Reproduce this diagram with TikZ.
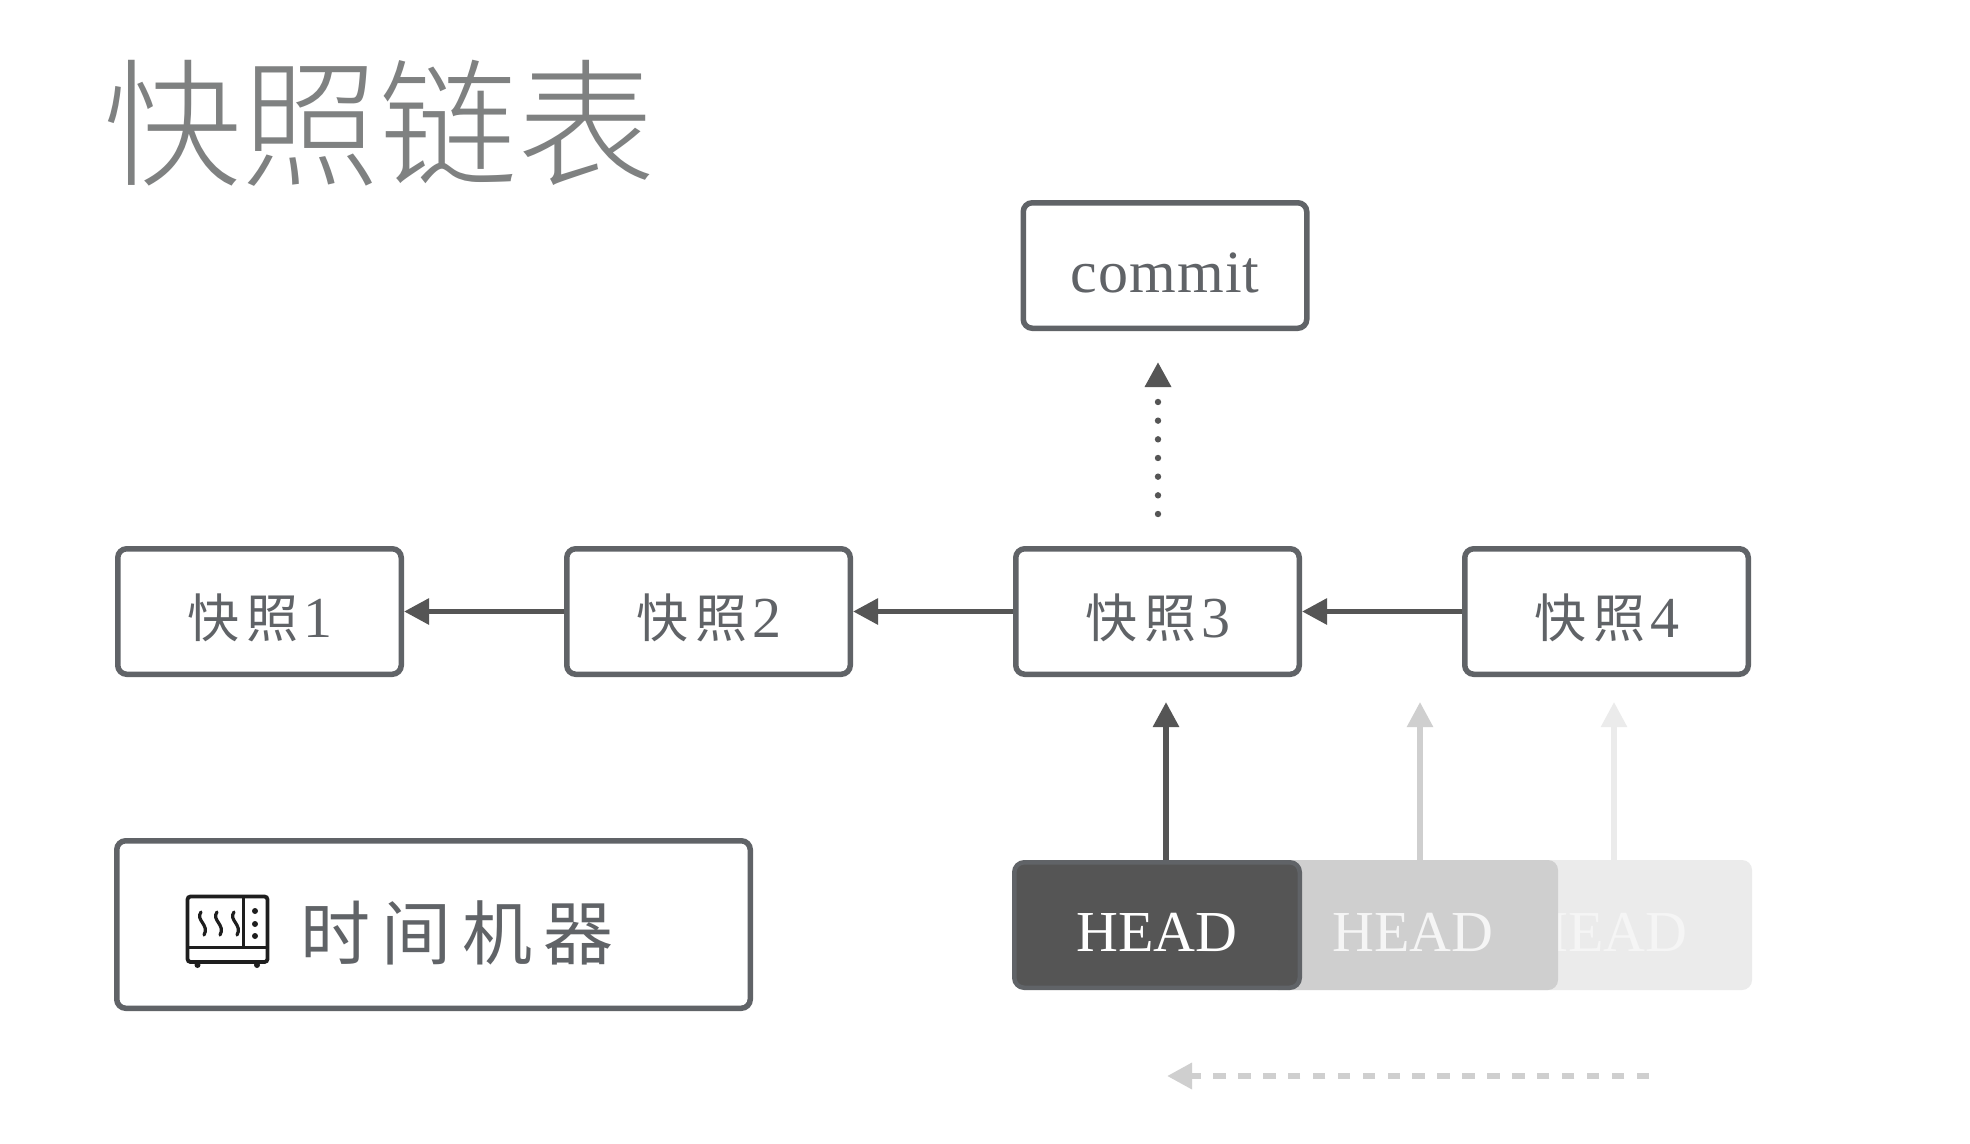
\documentclass[tikz,border=0pt]{standalone}
\usepackage{fontspec}
\usetikzlibrary{arrows.meta}
\setmainfont{Liberation Serif}
\newfontfamily\cjkfont{Noto Sans CJK SC}
\newfontfamily\titlefont{Noto Sans CJK SC Light}
\definecolor{inkgray}{HTML}{606367}
\definecolor{arrowgray}{HTML}{555555}
\definecolor{midgray}{HTML}{CFCFCF}
\definecolor{palegray}{HTML}{EBEBEB}
\definecolor{titlegray}{HTML}{7F8181}
\newcommand{\sz}[1]{\fontsize{#1}{#1}\selectfont}
\newcommand{\low}[2]{\raisebox{-#1pt}{#2}}
\newcommand{\snaplabel}[1]{\low{25.5}{{\cjkfont\sz{52}快\hspace{8pt}照\hspace{4pt}}{\sz{58}#1}}}
\begin{document}
\begin{tikzpicture}[x=1pt,y=-1pt,
  labelled/.style={text height=0pt,text depth=0pt,inner sep=0pt,align=center},
  framebox/.style={labelled,draw=inkgray,line width=5.5pt,rounded corners=9pt,fill=white,text=inkgray,minimum width=283.5pt,minimum height=125.5pt},
  headbox/.style={labelled,rounded corners=10pt,minimum width=290pt,minimum height=130pt},
  conn/.style={line width=5.8pt,-{Triangle[length=25pt,width=25pt]}},
  wave/.style={draw=iconblack,line width=3.2pt,line cap=round}]
\definecolor{iconblack}{HTML}{1E1E1E}
\useasboundingbox[fill=white] (0,0) rectangle (1970,1143);

% title
\node[anchor=base west,inner sep=0pt,text=titlegray,font=\titlefont\sz{138}] (title) at (103,175) {快照链表};

% boxes
\node[framebox] (commit) at (1165,265.5) {\low{27}{\sz{60}\addfontfeature{LetterSpace=2}commit}};
\node[framebox] (snap1) at (259.5,611.5) {\snaplabel{1}};
\node[framebox] (snap2) at (708.5,611.5) {\snaplabel{2}};
\node[framebox] (snap3) at (1157.5,611.5) {\snaplabel{3}};
\node[framebox] (snap4) at (1606.5,611.5) {\snaplabel{4}};
\node[framebox,minimum width=633.5pt,minimum height=167.5pt] (machine) at (433.5,924.5) {};
\node[anchor=base west,inner sep=0pt,text=inkgray,font=\cjkfont\sz{70}] (machinetext) at (300,959) {时\hspace{11pt}间\hspace{11pt}机\hspace{11pt}器};

% HEAD stack, back to front
\node[headbox,fill=palegray,text=white!50!palegray] (head3) at (1607,925) {\low{26}{\sz{58}HEAD}};
\node[headbox,fill=midgray,text=white!80!midgray] (head2) at (1413,925) {\low{26}{\sz{58}HEAD}};
\node[headbox,fill=arrowgray,draw=inkgray,line width=4.5pt,minimum width=285.5pt,minimum height=125.5pt,text=white] (head1) at (1157,925) {\low{26}{\sz{58}HEAD}};

% chain arrows
\draw[conn,draw=arrowgray,fill=arrowgray] (snap2.west) -- (snap1.east);
\draw[conn,draw=arrowgray,fill=arrowgray] (snap3.west) -- (snap2.east);
\draw[conn,draw=arrowgray,fill=arrowgray] (snap4.west) -- (snap3.east);

% HEAD arrows
\coordinate (t1) at (1166,702);
\coordinate (t2) at (1420,702);
\coordinate (t3) at (1614,702);
\draw[conn,draw=arrowgray,fill=arrowgray] (t1 |- head1.north) -- (t1);
\draw[conn,draw=midgray,fill=midgray,line width=5.5pt] (t2 |- head2.north) -- (t2);
\draw[conn,draw=palegray,fill=palegray,line width=5.5pt] (t3 |- head3.north) -- (t3);

% dotted arrow to commit
\coordinate (dotstart) at (1158,514);
\coordinate (dotend) at (1158,362);
\draw[draw=arrowgray,line width=6.4pt,line cap=round,dash pattern=on 0pt off 18.67pt,
  -{Triangle[length=25pt,width=25pt,line cap=butt,sep=0pt]}] (dotstart) -- (dotend);

% dashed time arrow
\coordinate (dashstart) at (1649,1076);
\coordinate (dashend) at (1167,1076);
\draw[draw=midgray,line width=6.4pt,dash pattern=on 12.5pt off 12.4pt,
  -{Triangle[length=25pt,width=25pt]}] (dashstart) -- (dashend);

% oven icon
\draw[draw=iconblack,line width=3.8pt,rounded corners=3pt] (187.5,896.5) rectangle (267.5,962);
\draw[draw=iconblack,line width=3pt] (187.5,947) -- (267.5,947);
\draw[draw=iconblack,line width=3pt] (243,896.5) -- (243,947);
\foreach \dy in {911,924,936} \fill[iconblack] (255,\dy) circle (3pt);
\foreach \wx in {203,219,236} \draw[wave] (\wx-2,912) .. controls (\wx-8,920) and (\wx+7,925) .. (\wx+1,935);
\fill[iconblack] (197.5,965) circle (3pt);
\fill[iconblack] (257,965) circle (3pt);
\end{tikzpicture}
\end{document}
